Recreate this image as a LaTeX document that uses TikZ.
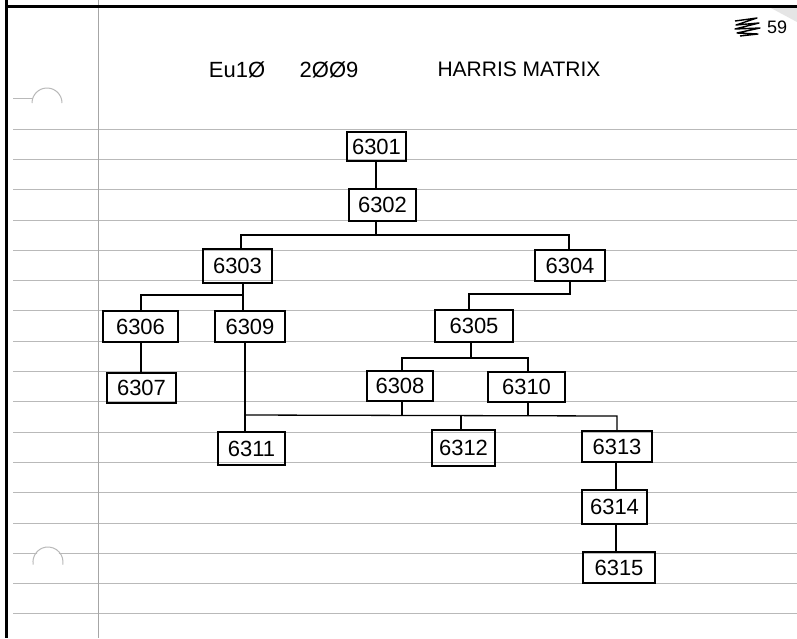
\documentclass[tikz,border=0pt]{standalone}
\usepackage{fontspec}
\setmainfont{Liberation Sans}
\begin{document}
\begin{tikzpicture}[x=1pt,y=-1pt,
  rule/.style={gray!55,line width=0.7pt},
  unit/.style={draw=black,line width=1.4pt,inner sep=0pt,font=\fontsize{22}{22}\selectfont},
  conn/.style={draw=black,line width=1.3pt},
  hand/.style={font=\fontsize{22}{22}\selectfont,inner sep=0pt}]
\useasboundingbox (0,0) rectangle (797,638);
\fill[white] (0,0) rectangle (797,638);
% ruled paper
\foreach \k in {0,...,16} \draw[rule] (13,129+30.3*\k) -- (797,129+30.3*\k);
\draw[rule] (13,98) -- (33,98);
\draw[gray!70,line width=0.8pt] (98,0) -- (98,638);
% punch holes
\fill[white] (48,562) circle (14);
\draw[gray!55,line width=1pt] (32,103) arc[start angle=180,end angle=360,radius=15];
\draw[gray!55,line width=1pt] (33.2,564.6) arc[start angle=170,end angle=370,radius=15];
% page corner
\fill[gray!20] (770,7.5) -- (797,7.5) -- (797,22) -- cycle;
% scan border
\draw[black,line width=3pt] (6.5,0) -- (6.5,638);
\draw[black,line width=3pt] (5,6) -- (797,6);
% header
\node[hand] (h1) at (237,70) {Eu1Ø};
\node[hand] (h2) at (329,70) {2ØØ9};
\node[hand,font=\fontsize{21}{21}\selectfont] (h3) at (519,69) {HARRIS MATRIX};
\draw[line width=1.4pt,line join=round] (735,21) -- (757,18) -- (736,25) -- (759,23) -- (735,29) -- (760,28) -- (737,33) -- (758,34) -- (740,36);
\node[hand,font=\fontsize{18}{18}\selectfont] (pg) at (777,27) {59};
% units
\node[unit,minimum width=59pt,minimum height=29pt] (n6301) at (376.5,146.5) {6301};
\node[unit,minimum width=67pt,minimum height=32pt] (n6302) at (382.5,205) {6302};
\node[unit,minimum width=69pt,minimum height=34pt] (n6303) at (237.5,266) {6303};
\node[unit,minimum width=70pt,minimum height=31pt] (n6304) at (570,265.5) {6304};
\node[unit,minimum width=75pt,minimum height=31pt] (n6306) at (140.5,326.5) {6306};
\node[unit,minimum width=70pt,minimum height=31pt] (n6309) at (250,326.5) {6309};
\node[unit,minimum width=78pt,minimum height=32pt] (n6305) at (474,326) {6305};
\node[unit,minimum width=69pt,minimum height=30pt] (n6307) at (141.5,388) {6307};
\node[unit,minimum width=66pt,minimum height=30pt] (n6308) at (400,386) {6308};
\node[unit,minimum width=77pt,minimum height=30pt] (n6310) at (526.5,387) {6310};
\node[unit,minimum width=67pt,minimum height=33pt] (n6311) at (251.5,448.5) {6311};
\node[unit,minimum width=63pt,minimum height=36pt] (n6312) at (463.5,448) {6312};
\node[unit,minimum width=70pt,minimum height=31pt] (n6313) at (617,446.5) {6313};
\node[unit,minimum width=65pt,minimum height=34pt] (n6314) at (614.5,507) {6314};
\node[unit,minimum width=72pt,minimum height=31pt] (n6315) at (619,567.5) {6315};
% junctions
\coordinate (jA) at (376,235);
\coordinate (jAL) at (241,235);
\coordinate (jAR) at (569,235);
\coordinate (jB) at (243,295);
\coordinate (jBL) at (141,295);
\coordinate (jC) at (570,294);
\coordinate (jCL) at (469,294);
\coordinate (jD) at (471,358);
\coordinate (jDL) at (402,358);
\coordinate (jDR) at (528,358);
\coordinate (jE) at (245,415);
\coordinate (jF) at (461,416);
\coordinate (jER) at (617,416);
\coordinate (jG) at (616,500);
% connectors
\draw[conn] (n6301.south -| jA) -- (n6302.north -| jA);
\draw[conn] (n6302.south -| jA) -- (jA);
\draw[conn] (n6303.north -| jAL) -- (jAL) -- (jAR) -- (n6304.north -| jAR);
\draw[conn] (n6303.south -| jB) -- (n6309.north -| jB);
\draw[conn] (jB) -- (jBL) -- (n6306.north -| jBL);
\draw[conn] (n6306.south -| jBL) -- (n6307.north -| jBL);
\draw[conn] (n6304.south -| jC) -- (jC) -- (jCL) -- (n6305.north -| jCL);
\draw[conn] (n6305.south -| jD) -- (jD);
\draw[conn] (n6308.north -| jDL) -- (jDL) -- (jDR) -- (n6310.north -| jDR);
\draw[conn] (n6309.south -| jE) -- (n6311.north -| jE);
\draw[conn] (jE) -- (jER) -- (n6313.north -| jER);
\draw[conn] (n6308.south -| jDL) -- (jDL |- jE);
\draw[conn] (n6310.south -| jDR) -- (jDR |- jE);
\draw[conn] (jF) -- (n6312.north -| jF);
\draw[conn] (n6313.south -| jG) -- (n6314.north -| jG);
\draw[conn] (n6314.south -| jG) -- (n6315.north -| jG);
\end{tikzpicture}
\end{document}
